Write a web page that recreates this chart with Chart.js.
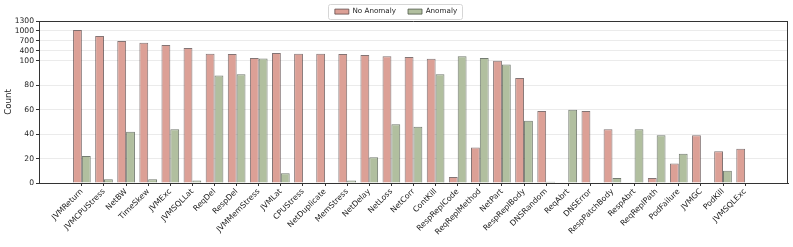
<!DOCTYPE html>
<html>
<head>
<meta charset="utf-8">
<script src="https://cdn.jsdelivr.net/npm/chart.js@4.4.1/dist/chart.umd.min.js"></script>
<style>
html,body{margin:0;padding:0;background:#fff;}
#wrap{width:793px;height:247px;}
</style>
</head>
<body>
<div id="wrap"><canvas id="c" width="793" height="247"></canvas></div>
<script>
const categories = ["JVMReturn","JVMCPUStress","NetBW","TimeSkew","JVMExc","JVMSQLLat","ReqDel","RespDel","JVMMemStress","JVMLat","CPUStress","NetDuplicate","MemStress","NetDelay","NetLoss","NetCorr","ContKill","RespReplCode","ReqReplMethod","NetPart","RespReplBody","DNSRandom","ReqAbrt","DNSError","RespPatchBody","RespAbrt","ReqReplPath","PodFailure","JVMGC","PodKill","JVMSQLExc"];
const noAnomaly = [1025,845,695,645,575,485,315,305,185,335,315,315,305,275,233,215,163,5,29,103,86,59,0,59,44,0,4,16,39,26,28];
const anomaly = [22,3,42,3,44,2,88,89,172,8,0,0,2,21,48,46,89,233,185,97,51,1,60,0,4,44,39,24,0,10,0];
const yTicks = [0,20,40,60,80,100,400,700,1000,1300];
const seriesNames = ["No Anomaly","Anomaly"];

// piecewise y-scale: linear 0-100, compressed above 100
const BREAK = 100, K = 0.02712;
const fwd = v => v <= BREAK ? v : BREAK + (v - BREAK) * K;
const inv = t => t <= BREAK ? t : BREAK + (t - BREAK) / K;

class BrokenLinearScale extends Chart.LinearScale {
  getPixelForValue(value) {
    return this.getPixelForDecimal((fwd(value) - fwd(this.min)) / (fwd(this.max) - fwd(this.min)));
  }
  getValueForPixel(pixel) {
    const d = this.getDecimalForPixel(pixel);
    return inv(fwd(this.min) + d * (fwd(this.max) - fwd(this.min)));
  }
}
BrokenLinearScale.id = 'brokenLinear';
BrokenLinearScale.defaults = Chart.LinearScale.defaults;
Chart.register(BrokenLinearScale);

Chart.defaults.font.family = "'DejaVu Sans', sans-serif";
Chart.defaults.color = '#222';

const frame = {
  id: 'frame',
  afterDatasetsDraw(chart) {
    const a = chart.chartArea, ctx = chart.ctx;
    ctx.save();
    ctx.strokeStyle = '#333';
    ctx.lineWidth = 1;
    ctx.beginPath();
    ctx.moveTo(a.left, Math.round(a.top) + 0.5); ctx.lineTo(a.right, Math.round(a.top) + 0.5);
    ctx.moveTo(Math.round(a.right) - 0.5, a.top); ctx.lineTo(Math.round(a.right) - 0.5, a.bottom);
    ctx.stroke();
    ctx.restore();
  },
  beforeDraw(chart) {
    const lg = chart.legend;
    if (!lg || !lg.legendHitBoxes || !lg.legendHitBoxes.length) return;
    const hb = lg.legendHitBoxes;
    const l = hb[0].left - 7, r = hb[hb.length - 1].left + hb[hb.length - 1].width + 5;
    const t = hb[0].top - 4, b = hb[0].top + hb[0].height + 4;
    const ctx = chart.ctx;
    ctx.save();
    ctx.strokeStyle = '#d6d6d6';
    ctx.fillStyle = '#fff';
    ctx.lineWidth = 1;
    ctx.beginPath();
    ctx.roundRect(Math.round(l) + 0.5, Math.round(t) + 0.5, Math.round(r - l), Math.round(b - t), 2);
    ctx.fill(); ctx.stroke();
    ctx.restore();
  }
};

new Chart(document.getElementById('c'), {
  type: 'bar',
  data: {
    datasets: [
      {
        label: seriesNames[0],
        data: categories.map((c, i) => ({x: i, y: noAnomaly[i]})),
        backgroundColor: '#dca096',
        borderColor: 'rgba(90,70,70,0.75)',
        borderWidth: 1,
        borderSkipped: 'start',
        categoryPercentage: 0.8,
        barPercentage: 1.0
      },
      {
        label: seriesNames[1],
        data: categories.map((c, i) => ({x: i, y: anomaly[i]})),
        backgroundColor: '#b1bf9f',
        borderColor: 'rgba(70,80,65,0.75)',
        borderWidth: 1,
        borderSkipped: 'start',
        categoryPercentage: 0.8,
        barPercentage: 1.0
      }
    ]
  },
  options: {
    responsive: false,
    animation: false,
    devicePixelRatio: 1,
    layout: { padding: { left: 4, right: 5, top: -4, bottom: 0 } },
    plugins: {
      legend: {
        display: true,
        position: 'top',
        maxHeight: 25,
        labels: {
          boxWidth: 14,
          boxHeight: 5,
          padding: 12,
          font: { size: 7.2 },
          color: '#222'
        }
      },
      tooltip: { enabled: false }
    },
    scales: {
      x: {
        type: 'linear',
        min: -1.94,
        max: 31.94,
        offset: false,
        afterBuildTicks: s => { s.ticks = categories.map((c, i) => ({value: i})); },
        afterFit: s => { s.height = 64; },
        ticks: {
          autoSkip: false,
          minRotation: 45,
          maxRotation: 45,
          padding: 1,
          font: { size: 7.8 },
          color: '#222',
          callback: v => categories[v]
        },
        grid: { display: true, drawOnChartArea: false, drawTicks: true, tickLength: 3, tickColor: '#333', offset: false },
        border: { display: true, color: '#333', width: 1 }
      },
      y: {
        type: 'brokenLinear',
        min: 0,
        max: 1300,
        afterBuildTicks: s => { s.ticks = yTicks.map(v => ({value: v})); },
        afterFit: s => { s.width = 35; },
        ticks: {
          autoSkip: false,
          padding: 2,
          font: { size: 7.6 },
          color: '#222',
          callback: v => String(v)
        },
        title: { display: true, text: 'Count', font: { size: 8.6 }, color: '#222', padding: { top: 0, bottom: 0 } },
        grid: { display: true, color: '#ebebeb', lineWidth: 1, drawTicks: true, tickLength: 3, tickColor: '#333' },
        border: { display: true, color: '#333', width: 1 }
      }
    }
  },
  plugins: [frame]
});
</script>
</body>
</html>
